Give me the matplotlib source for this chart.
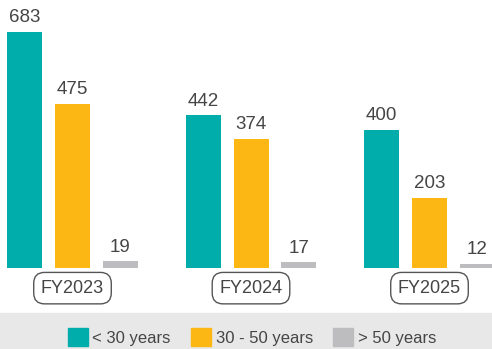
import numpy as np
import matplotlib.pyplot as plt
from matplotlib.patches import Rectangle, Patch

years = ["FY2023", "FY2024", "FY2025"]
age_groups = ["< 30 years", "30 - 50 years", "> 50 years"]
under_30 = [683, 442, 400]
between_30_50 = [475, 374, 203]
over_50 = [19, 17, 12]

colors = ["#00ADAB", "#FDB714", "#BDBDBF"]
text_color = "#454545"

plt.rcParams['font.family'] = ['Liberation Sans', 'DejaVu Sans']

fig = plt.figure(figsize=(4.92, 3.49), dpi=100)
ax = fig.add_axes([0, 81 / 349, 1, 268 / 349])

x = np.arange(len(years))
step = 48 / 178.5
width = 35 / 178.5

for k, (vals, col) in enumerate(zip([under_30, between_30_50, over_50], colors)):
    pos = x + (k - 1) * step
    bars = ax.bar(pos, vals, width=width, color=col, label=age_groups[k])
    for b, v in zip(bars, vals):
        ax.annotate(str(v), (b.get_x() + b.get_width() / 2, v),
                    xytext=(0, 4), textcoords="offset points",
                    ha="center", va="bottom", fontsize=13.5, color=text_color)

ax.set_xlim(-72.5 / 178.5, 2 + 62.5 / 178.5)
ax.set_ylim(0, 268 / 0.3455)
ax.axis("off")

# year labels in rounded boxes under each group
for xi, name in zip(x, years):
    ax.annotate(name, (xi, 0), xytext=(0, -14.5), textcoords="offset points",
                ha="center", va="center", fontsize=13, color=text_color,
                bbox=dict(boxstyle="round,pad=0.4,rounding_size=0.6",
                          fc="white", ec="#555555", lw=1.0))

# legend band
fig.patches.append(Rectangle((0, 0), 1, 36 / 349, transform=fig.transFigure,
                             color="#E8E8E8", zorder=0))
handles = [Patch(color=c) for c in colors]
fig.legend(handles, age_groups, loc="center", bbox_to_anchor=(252 / 492, 12 / 349),
           ncol=3, frameon=False, fontsize=12, handlelength=1.2, handleheight=1.2,
           handletextpad=0.3, columnspacing=1.2, labelcolor=text_color,
           borderpad=0)

fig.savefig("out.png", dpi=100)
